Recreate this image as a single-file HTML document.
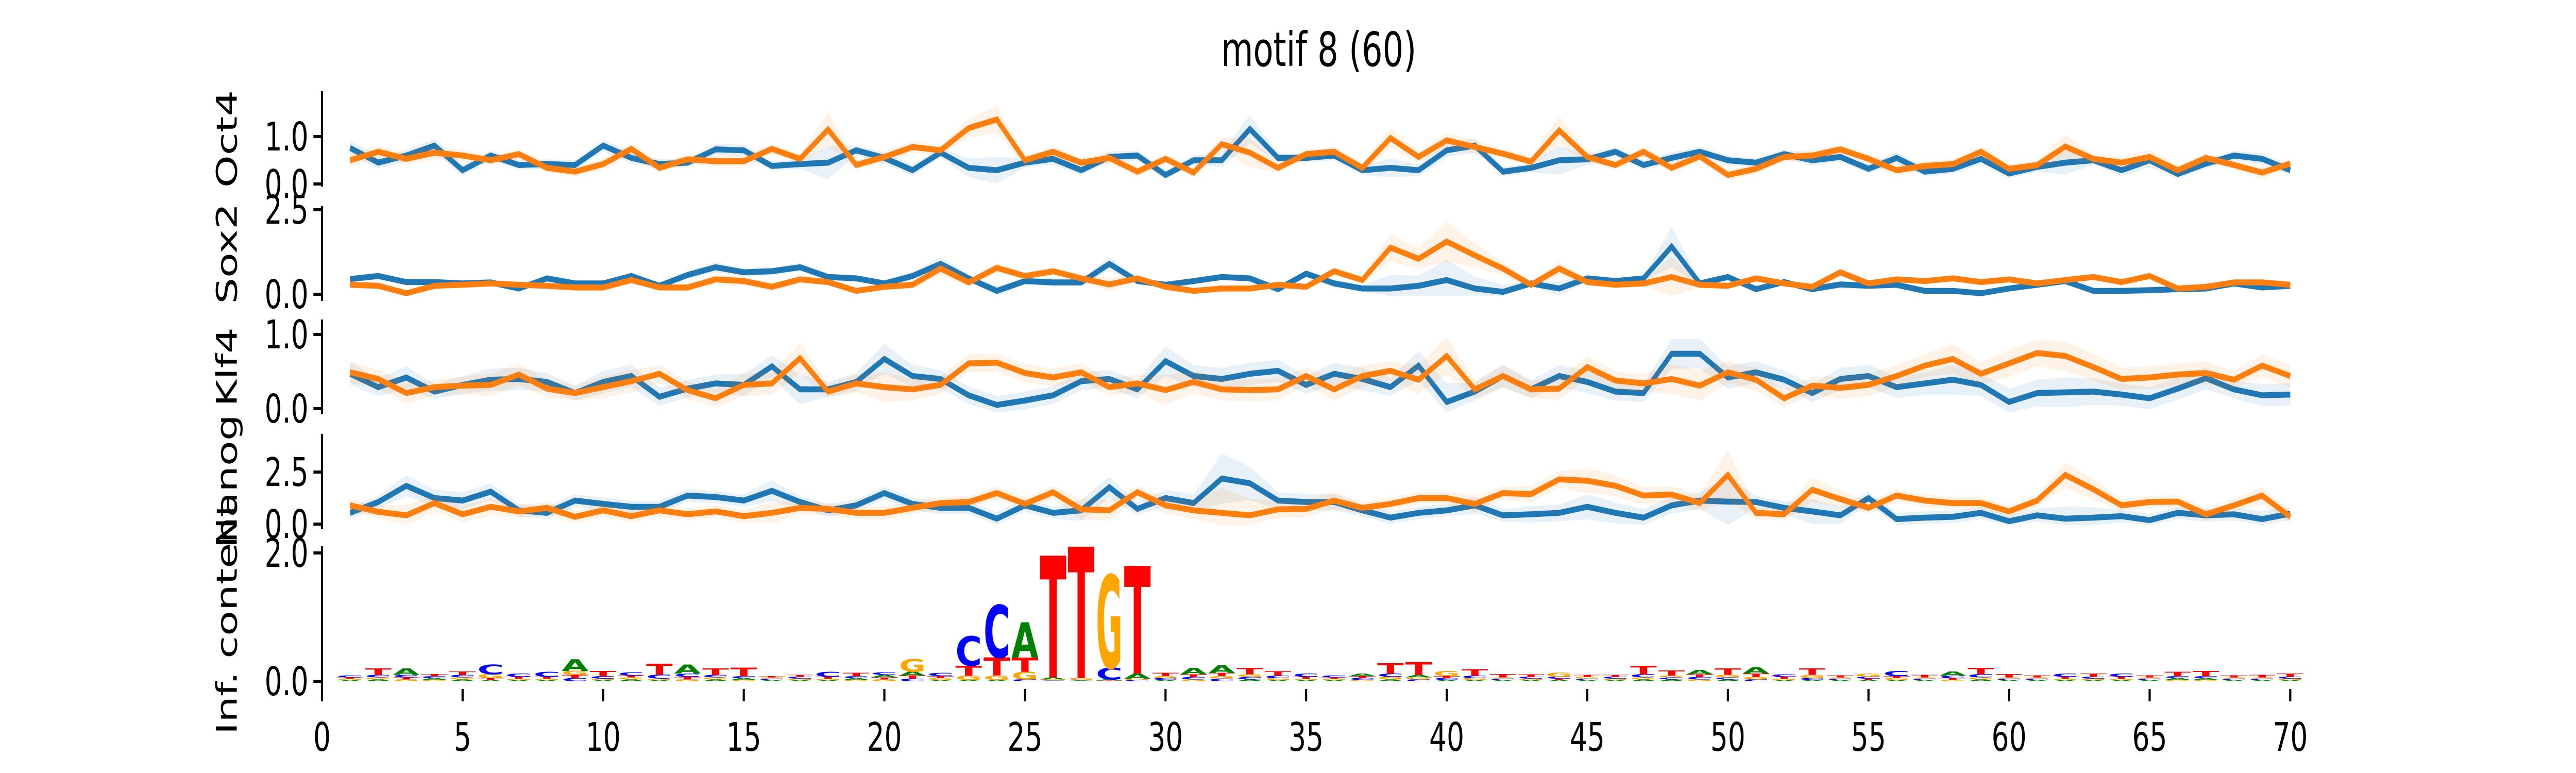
<!DOCTYPE html>
<html><head><meta charset="utf-8"><style>
html,body{margin:0;padding:0;background:#fff;width:100vw;height:100vh;overflow:hidden}
svg{display:block;width:100vw;height:100vh}
text{font-family:"DejaVu Sans","Liberation Sans",sans-serif}
</style></head><body>
<svg id="chart" xmlns="http://www.w3.org/2000/svg" viewBox="0 0 7200 1500" preserveAspectRatio="none">
<text x="3686" y="128" font-size="92" text-anchor="middle">motif 8 (60)</text>
<g id="g"></g>
</svg>
<script>
const xTicks=[0,5,10,15,20,25,30,35,40,45,50,55,60,65,70];
const oct4Blue=[0.76,0.45,0.6,0.81,0.29,0.6,0.4,0.42,0.4,0.81,0.55,0.42,0.45,0.73,0.71,0.38,0.42,0.45,0.71,0.55,0.29,0.66,0.34,0.29,0.45,0.53,0.29,0.57,0.6,0.19,0.5,0.5,1.16,0.55,0.55,0.6,0.29,0.34,0.29,0.71,0.81,0.26,0.34,0.5,0.52,0.68,0.4,0.55,0.68,0.5,0.45,0.63,0.5,0.57,0.32,0.55,0.26,0.32,0.53,0.22,0.36,0.45,0.5,0.29,0.5,0.21,0.43,0.6,0.53,0.29];
const oct4Orange=[0.5,0.68,0.53,0.66,0.6,0.5,0.63,0.34,0.26,0.42,0.74,0.34,0.52,0.48,0.48,0.74,0.53,1.15,0.4,0.57,0.78,0.71,1.18,1.36,0.5,0.68,0.45,0.55,0.26,0.53,0.24,0.84,0.66,0.34,0.63,0.68,0.34,0.97,0.57,0.92,0.78,0.64,0.47,1.13,0.57,0.4,0.68,0.34,0.58,0.19,0.32,0.57,0.6,0.73,0.53,0.29,0.38,0.42,0.68,0.32,0.4,0.79,0.53,0.45,0.57,0.29,0.55,0.4,0.24,0.43];
const sox2Blue=[0.45,0.54,0.36,0.36,0.32,0.35,0.17,0.47,0.32,0.32,0.54,0.25,0.57,0.8,0.65,0.68,0.8,0.51,0.47,0.32,0.54,0.9,0.47,0.1,0.39,0.35,0.35,0.9,0.39,0.28,0.39,0.51,0.47,0.15,0.61,0.32,0.17,0.17,0.25,0.42,0.17,0.07,0.32,0.17,0.47,0.39,0.47,1.41,0.32,0.51,0.15,0.36,0.15,0.29,0.25,0.28,0.1,0.1,0.03,0.17,0.28,0.39,0.1,0.1,0.12,0.15,0.17,0.32,0.2,0.25];
const sox2Orange=[0.28,0.25,0.03,0.25,0.28,0.32,0.28,0.25,0.2,0.2,0.42,0.2,0.2,0.44,0.39,0.22,0.44,0.36,0.1,0.22,0.28,0.76,0.35,0.78,0.54,0.68,0.47,0.29,0.47,0.22,0.1,0.17,0.17,0.28,0.22,0.68,0.42,1.38,1.05,1.56,1.15,0.76,0.28,0.76,0.36,0.28,0.32,0.51,0.28,0.25,0.47,0.32,0.22,0.65,0.32,0.44,0.39,0.47,0.36,0.44,0.32,0.42,0.51,0.36,0.54,0.17,0.22,0.35,0.35,0.28];
const klf4Blue=[0.47,0.29,0.42,0.23,0.32,0.39,0.4,0.36,0.21,0.36,0.44,0.16,0.27,0.34,0.32,0.57,0.26,0.26,0.36,0.67,0.44,0.4,0.18,0.05,0.11,0.18,0.37,0.4,0.26,0.64,0.44,0.4,0.47,0.51,0.32,0.47,0.4,0.29,0.58,0.09,0.23,0.44,0.26,0.44,0.36,0.23,0.21,0.74,0.74,0.42,0.49,0.39,0.21,0.4,0.44,0.29,0.34,0.39,0.32,0.09,0.21,0.22,0.23,0.19,0.14,0.27,0.41,0.26,0.18,0.19];
const klf4Orange=[0.49,0.4,0.21,0.29,0.31,0.32,0.46,0.27,0.21,0.29,0.37,0.47,0.25,0.14,0.32,0.34,0.68,0.23,0.34,0.29,0.26,0.32,0.61,0.62,0.48,0.42,0.49,0.29,0.34,0.25,0.36,0.26,0.25,0.26,0.44,0.26,0.44,0.51,0.39,0.71,0.26,0.44,0.26,0.27,0.56,0.38,0.34,0.4,0.31,0.49,0.39,0.14,0.31,0.28,0.32,0.44,0.58,0.67,0.47,0.61,0.75,0.71,0.56,0.4,0.42,0.46,0.48,0.39,0.58,0.44];
const nanogBlue=[0.54,1.06,1.84,1.25,1.13,1.56,0.66,0.54,1.13,0.97,0.83,0.83,1.37,1.3,1.13,1.6,1.06,0.66,0.9,1.49,0.97,0.78,0.78,0.26,0.9,0.54,0.66,1.77,0.73,1.25,1.01,2.19,1.96,1.13,1.06,1.06,0.66,0.31,0.54,0.66,0.9,0.42,0.47,0.54,0.83,0.54,0.31,0.9,1.13,1.08,1.06,0.78,0.61,0.42,1.25,0.24,0.31,0.35,0.54,0.14,0.42,0.26,0.31,0.38,0.19,0.54,0.42,0.47,0.24,0.5];
const nanogOrange=[0.9,0.59,0.42,1.01,0.47,0.83,0.61,0.78,0.35,0.66,0.38,0.66,0.47,0.61,0.38,0.54,0.78,0.73,0.54,0.54,0.78,1.01,1.06,1.49,0.97,1.53,0.71,0.66,1.53,0.9,0.66,0.54,0.42,0.71,0.73,1.13,0.78,0.97,1.25,1.25,0.97,1.49,1.44,2.15,2.08,1.84,1.37,1.42,1.01,2.36,0.54,0.47,1.65,1.2,0.78,1.37,1.13,1.01,1.01,0.61,1.13,2.36,1.67,0.9,1.06,1.08,0.47,0.9,1.37,0.35];
const errSmall=[0.15,0.12,0.12,0.14,0.12,0.1,0.1,0.1,0.1,0.12,0.12,0.1,0.1,0.12,0.12,0.1,0.1,0.35,0.1,0.12,0.12,0.1,0.2,0.28,0.1,0.12,0.1,0.12,0.1,0.1,0.1,0.15,0.3,0.1,0.1,0.1,0.1,0.2,0.12,0.15,0.15,0.1,0.1,0.3,0.12,0.1,0.1,0.12,0.1,0.1,0.1,0.1,0.12,0.1,0.1,0.12,0.1,0.1,0.12,0.1,0.1,0.25,0.1,0.12,0.15,0.1,0.1,0.1,0.12,0.1];
const errSox=[0.1,0.1,0.08,0.08,0.08,0.08,0.08,0.1,0.08,0.08,0.12,0.08,0.12,0.15,0.12,0.12,0.12,0.1,0.08,0.08,0.12,0.2,0.1,0.15,0.1,0.12,0.1,0.2,0.1,0.08,0.08,0.08,0.08,0.08,0.1,0.12,0.1,0.4,0.3,0.6,0.35,0.2,0.08,0.2,0.1,0.08,0.08,0.6,0.08,0.08,0.1,0.08,0.08,0.12,0.08,0.08,0.08,0.08,0.08,0.08,0.08,0.1,0.08,0.08,0.1,0.08,0.08,0.08,0.08,0.08];
const errKlf=[0.15,0.12,0.15,0.1,0.12,0.15,0.15,0.12,0.1,0.15,0.15,0.12,0.12,0.12,0.15,0.15,0.2,0.1,0.12,0.2,0.15,0.12,0.12,0.12,0.12,0.12,0.12,0.12,0.12,0.2,0.15,0.15,0.15,0.15,0.12,0.15,0.15,0.12,0.2,0.25,0.12,0.15,0.12,0.15,0.15,0.12,0.12,0.2,0.2,0.15,0.15,0.12,0.12,0.15,0.15,0.15,0.15,0.2,0.15,0.18,0.18,0.2,0.18,0.15,0.15,0.15,0.15,0.12,0.15,0.15];
const errNanog=[0.3,0.3,0.5,0.4,0.4,0.4,0.3,0.3,0.3,0.3,0.3,0.3,0.3,0.3,0.3,0.5,0.3,0.3,0.3,0.3,0.3,0.3,0.3,0.3,0.3,0.3,0.5,0.5,0.3,0.4,0.4,1.2,0.8,0.4,0.4,0.4,0.3,0.3,0.3,0.3,0.4,0.3,0.4,0.4,0.6,0.5,0.4,0.4,0.4,1.2,0.3,0.3,0.6,0.4,0.3,0.3,0.3,0.3,0.3,0.3,0.3,0.6,0.5,0.3,0.3,0.3,0.3,0.3,0.4,0.3];
const logoA=[0.02,0.03,0.1,0.03,0.03,0.02,0.02,0.02,0.18,0.02,0.03,0.02,0.14,0.03,0.03,0.02,0.02,0.02,0.03,0.04,0.06,0.02,0.02,0.02,0.55,0.03,0.01,0.02,0.08,0.02,0.1,0.12,0.03,0.02,0.02,0.02,0.04,0.03,0.04,0.02,0.02,0.02,0.02,0.02,0.02,0.02,0.03,0.03,0.07,0.03,0.1,0.02,0.02,0.02,0.02,0.02,0.02,0.06,0.03,0.02,0.02,0.02,0.02,0.02,0.02,0.03,0.03,0.02,0.02,0.02];
const logoC=[0.03,0.04,0.04,0.03,0.04,0.15,0.05,0.08,0.05,0.04,0.05,0.06,0.05,0.04,0.03,0.02,0.03,0.08,0.03,0.04,0.04,0.05,0.46,0.82,0.03,0.01,0.01,0.18,0.02,0.03,0.04,0.04,0.04,0.04,0.05,0.03,0.03,0.05,0.03,0.03,0.04,0.02,0.03,0.03,0.02,0.03,0.05,0.03,0.04,0.03,0.03,0.04,0.03,0.02,0.03,0.08,0.02,0.04,0.05,0.02,0.02,0.05,0.03,0.05,0.02,0.03,0.03,0.02,0.02,0.03];
const logoG=[0.02,0.03,0.03,0.02,0.03,0.06,0.02,0.02,0.06,0.02,0.03,0.02,0.03,0.03,0.02,0.02,0.02,0.02,0.02,0.03,0.2,0.03,0.07,0.07,0.12,0.02,0.03,1.45,0.02,0.03,0.03,0.04,0.04,0.03,0.02,0.02,0.02,0.04,0.03,0.08,0.03,0.02,0.02,0.07,0.03,0.02,0.03,0.03,0.03,0.04,0.04,0.02,0.05,0.02,0.05,0.03,0.02,0.02,0.03,0.02,0.02,0.02,0.02,0.02,0.02,0.02,0.02,0.02,0.02,0.02];
const logoT=[0.02,0.1,0.03,0.03,0.05,0.03,0.03,0.03,0.05,0.08,0.03,0.17,0.04,0.1,0.13,0.02,0.03,0.03,0.05,0.03,0.05,0.03,0.15,0.28,0.22,1.9,2.05,0.01,1.68,0.05,0.04,0.05,0.1,0.07,0.03,0.02,0.03,0.16,0.2,0.03,0.1,0.05,0.04,0.02,0.03,0.03,0.13,0.08,0.04,0.1,0.05,0.03,0.1,0.03,0.02,0.03,0.04,0.03,0.1,0.05,0.03,0.03,0.05,0.03,0.03,0.07,0.08,0.03,0.04,0.05];

const NS='http://www.w3.org/2000/svg';
const G=document.getElementById('g');
const X0=900,XU=78.59;
function xs(v){return X0+v*XU;}
function mk(tag,attrs,parent){const e=document.createElementNS(NS,tag);for(const k in attrs)e.setAttribute(k,attrs[k]);(parent||G).appendChild(e);return e;}
const BLUE='#1f77b4',ORANGE='#ff7f0e';
const panels=[
 {name:'oct4',label:'Oct4',zero:357,unit:92,top:177,bot:362,ticks:[0,1],tl:['0.0','1.0'],s:[[oct4Blue,errSmall],[oct4Orange,errSmall]]},
 {name:'sox2',label:'Sox2',zero:571,unit:65.6,top:400,bot:584,ticks:[0,2.5],tl:['0.0','2.5'],s:[[sox2Blue,errSox],[sox2Orange,errSox]]},
 {name:'klf4',label:'Klf4',zero:793,unit:144,top:620,bot:804,ticks:[0,1],tl:['0.0','1.0'],s:[[klf4Blue,errKlf],[klf4Orange,errKlf]]},
 {name:'nanog',label:'Nanog',zero:1017,unit:40.4,top:842,bot:1026,ticks:[0,2.5],tl:['0.0','2.5'],s:[[nanogBlue,errNanog],[nanogOrange,errNanog]]}
];
function axis(p,label){
  const ax=mk('line',{x1:X0,x2:X0,y1:p.top,y2:p.bot,stroke:'#000','stroke-width':6});
  
  
  p.ticks.forEach((t,i)=>{
    const y=p.zero-t*p.unit;
    const tk=mk('line',{x1:X0-24,x2:X0,y1:y,y2:y,stroke:'#000','stroke-width':6});
    
    
    const tx=mk('text',{x:X0-38,y:y+27,'font-size':77,'text-anchor':'end'});
    tx.textContent=p.tl[i];
    
    
  });
  const cy=(p.top+p.bot)/2;
  const lb=mk('text',{x:0,y:0,'font-size':80,'text-anchor':'middle',transform:`translate(662,${cy}) rotate(-90)`});
  lb.textContent=label;
  
  
}
panels.forEach(p=>{
  axis(p,p.label);
  p.s.forEach((se,si)=>{
    const vals=se[0],err=se[1],col=si?ORANGE:BLUE;
    let up=[],dn=[],ln=[];
    vals.forEach((v,i)=>{const x=xs(i+1);up.push(x+','+(p.zero-(v+err[i])*p.unit));dn.unshift(x+','+(p.zero-Math.max(v-err[i],-0.05)*p.unit));ln.push(x+','+(p.zero-v*p.unit));});
    const band=mk('polygon',{points:up.concat(dn).join(' '),fill:col,'fill-opacity':0.1,stroke:'none'});
    
    
    const line=mk('polyline',{points:ln.join(' '),fill:'none',stroke:col,'stroke-width':11.5,'stroke-linejoin':'miter','stroke-miterlimit':2});
    
    
  });
});
const lp={name:'logo',zero:1322,unit:124.5,top:1060,bot:1337,ticks:[0,2],tl:['0.0','2.0']};
axis(lp,'Inf. content');
const baseCols={A:'#008000',C:'#0000ff',G:'#ffa500',T:'#ff0000'};
const bases={A:logoA,C:logoC,G:logoG,T:logoT};
for(let i=0;i<70;i++){
  const arr=['A','C','G','T'].map(b=>[b,bases[b][i]]).sort((a,b)=>a[1]-b[1]);
  let acc=0;
  const xl=xs(i+1)-XU/2+2;
  arr.forEach(([b,h])=>{
    const hp=h*lp.unit;
    const base=lp.zero-acc*lp.unit;
    acc+=h;
    if(hp<1)return;
    const fs=hp/0.73;
    const t=mk('text',{x:xl,y:base,'font-size':fs,'font-weight':'bold',fill:baseCols[b],textLength:XU-4,lengthAdjust:'spacingAndGlyphs'});
    t.textContent=b;
    
    
  });
}
xTicks.forEach(t=>{
  const x=xs(t);
  const tk=mk('line',{x1:x,x2:x,y1:1337,y2:1361,stroke:'#000','stroke-width':6});
  
  
  const tx=mk('text',{x:x,y:1457,'font-size':77,'text-anchor':'middle'});
  tx.textContent=String(t);
  
  
});
</script>
</body></html>
